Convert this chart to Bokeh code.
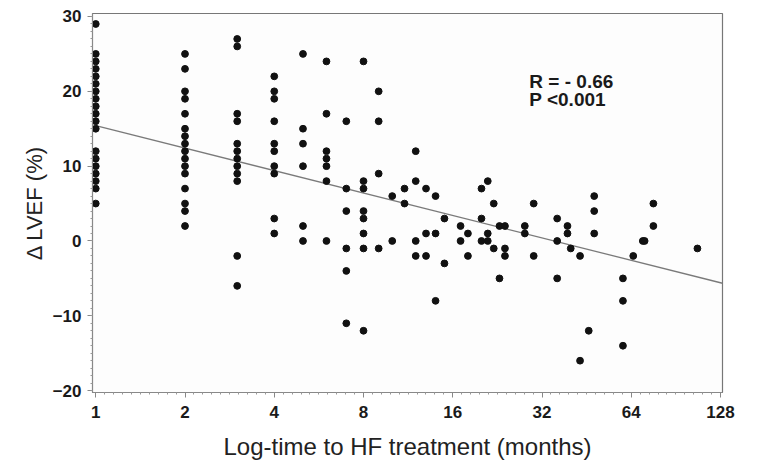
from bokeh.plotting import figure
from bokeh.models import Range1d, FixedTicker, BasicTickFormatter, Label, ColumnDataSource, Title
from bokeh.embed import file_html
from bokeh.resources import INLINE

# ---- data ----
month_groups = [1, 2, 3, 4, 5, 6, 7, 8, 9, 10, 11, 12, 13, 14, 15, 17, 18, 20, 21, 22,
                23, 24, 28, 30, 36, 39, 40, 43, 46, 48, 60, 65, 70, 71, 76, 107]
delta_groups = [
    [29, 25, 24, 23, 22, 21, 20, 19, 18, 17, 16, 15, 12, 11, 10, 9, 8, 7, 5],
    [25, 23, 20, 19, 17, 15, 14, 13, 12, 11, 10, 9, 7, 5, 4, 2],
    [27, 26, 17, 16, 13, 12, 11, 10, 9, 8, -2, -6],
    [22, 20, 19, 16, 13, 12, 10, 9, 3, 1],
    [25, 15, 13, 10, 2, 0],
    [24, 17, 12, 11, 10, 8, 0],
    [16, 7, 4, -1, -4, -11],
    [24, 8, 7, 4, 3, 1, -1, -12],
    [20, 16, 9, -1],
    [6, 0],
    [7, 5],
    [12, 8, 0, -2],
    [7, 1, -2],
    [6, 1, -8],
    [3, -3],
    [2, 0],
    [1, -2],
    [7, 3, 0],
    [8, 1, 0],
    [5, -1],
    [2, -5],
    [2, -1, -2],
    [2, 1],
    [5, -2],
    [3, 0, -5],
    [2, 1],
    [-1],
    [-2, -16],
    [-12],
    [6, 4, 1],
    [-5, -8, -14],
    [-2],
    [0],
    [0],
    [5, 2],
    [-1],
]
fit_months = [1, 130]
fit_values = [15.4, -5.65]
x_tick_values = [1, 2, 4, 8, 16, 32, 64, 128]
y_tick_values = [-20, -10, 0, 10, 20, 30]
stat_lines = ["R = - 0.66", "P <0.001"]
x_title = "Log-time to HF treatment (months)"
y_title = "Δ LVEF (%)"

months = []
delta = []
for m, vals in zip(month_groups, delta_groups):
    for v in vals:
        months.append(m)
        delta.append(v)

src = ColumnDataSource(dict(x=months, y=delta))

p = figure(width=757, height=462, x_axis_type="log",
           x_range=Range1d(0.975, 130), y_range=Range1d(-20.25, 30.4),
           output_backend="svg", toolbar_location=None,
           min_border_left=92, min_border_right=35, min_border_top=13, min_border_bottom=66)

p.background_fill_color = "#fdfdfd"
p.border_fill_color = "white"
p.outline_line_color = "#777777"
p.outline_line_width = 1.2
p.xgrid.visible = False
p.ygrid.visible = False

p.line(fit_months, fit_values, line_color="#7a7a7a", line_width=1.3)
p.scatter("x", "y", source=src, marker="circle", size=6.8,
          fill_color="#111111", line_color="#111111")

minor_x = []
for k in range(7):
    for j in range(1, 10):
        minor_x.append(2 ** (k + j / 10))
p.xaxis.ticker = FixedTicker(ticks=x_tick_values, minor_ticks=minor_x)
p.xaxis.formatter = BasicTickFormatter(use_scientific=False)
p.yaxis.ticker = FixedTicker(ticks=y_tick_values, minor_ticks=list(range(-20, 31)))

for ax in (p.xaxis[0], p.yaxis[0]):
    ax.axis_line_color = "#888888"
    ax.major_tick_line_color = "#888888"
    ax.minor_tick_line_color = "#999999"
    ax.major_tick_out = 5
    ax.major_tick_in = 0
    ax.minor_tick_out = 2
    ax.minor_tick_in = 0
    ax.major_label_text_font = "Liberation Sans"
    ax.major_label_text_font_style = "bold"
    ax.major_label_text_font_size = "17px"
    ax.major_label_text_color = "#1a1a1a"
    ax.axis_label_text_font = "Liberation Sans"
    ax.axis_label_text_font_style = "normal"
    ax.axis_label_text_color = "#222222"

p.xaxis.axis_label = x_title
p.xaxis.axis_label_text_font_size = "24px"
p.xaxis.major_label_standoff = 8
p.xaxis.axis_label_standoff = 12
p.yaxis.major_label_standoff = 6

# y-axis title, a little above the frame centre as in the reference
p.add_layout(Title(text=y_title, align="center", offset=32, standoff=6,
                   text_font="Liberation Sans", text_font_size="22px",
                   text_font_style="normal", text_color="#222222"), "left")

p.add_layout(Label(x=29, y=21.3, text=stat_lines[0], text_font="Liberation Sans",
                   text_font_style="bold", text_font_size="19px", text_color="#1a1a1a",
                   text_baseline="alphabetic"))
p.add_layout(Label(x=29, y=18.9, text=stat_lines[1], text_font="Liberation Sans",
                   text_font_style="bold", text_font_size="19px", text_color="#1a1a1a",
                   text_baseline="alphabetic"))

open("out.html", "w").write(file_html(p, INLINE))
